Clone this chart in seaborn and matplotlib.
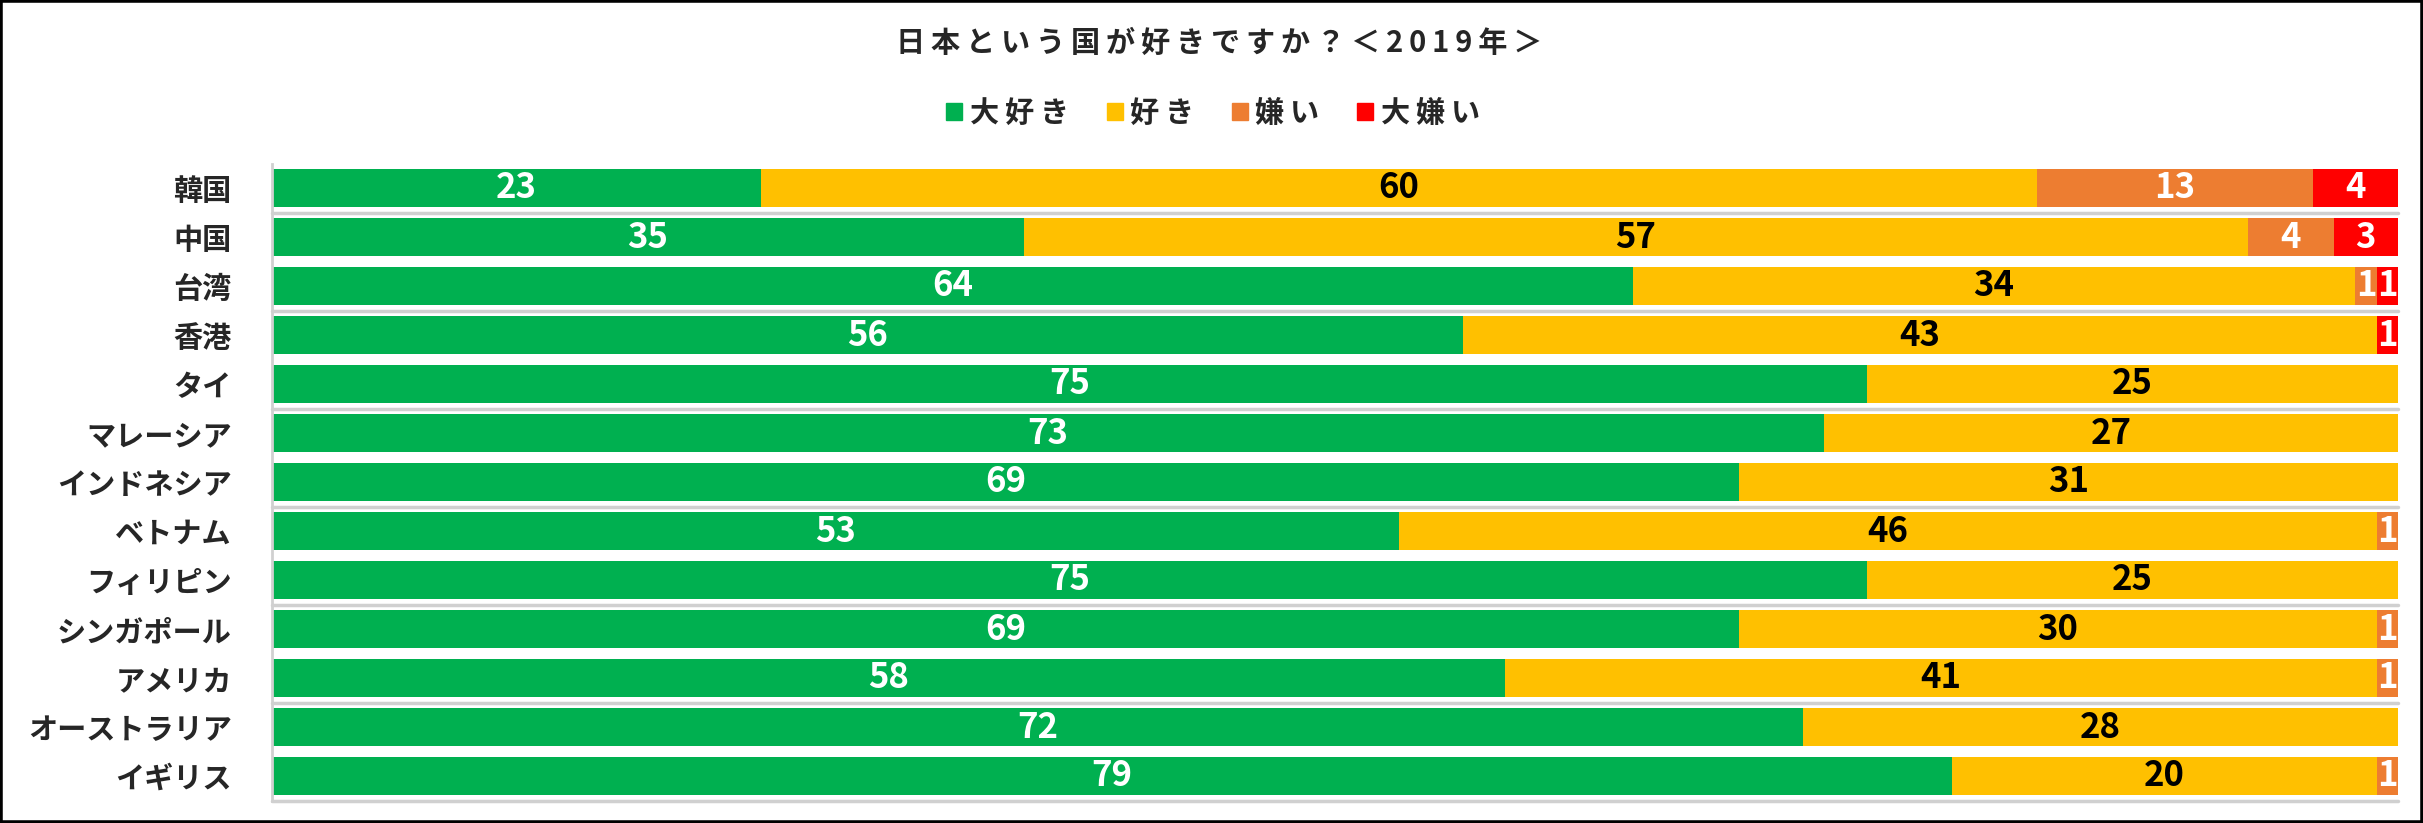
import matplotlib
matplotlib.use("Agg")
import matplotlib.pyplot as plt
import seaborn as sns
import pandas as pd
import numpy as np
from matplotlib.patches import Rectangle

countries = ["韓国", "中国", "台湾", "香港", "タイ", "マレーシア", "インドネシア", "ベトナム",
             "フィリピン", "シンガポール", "アメリカ", "オーストラリア", "イギリス"]
daisuki = [23, 35, 64, 56, 75, 73, 69, 53, 75, 69, 58, 72, 79]
suki = [60, 57, 34, 43, 25, 27, 31, 46, 25, 30, 41, 28, 20]
kirai = [13, 4, 1, 0, 0, 0, 0, 1, 0, 1, 1, 0, 1]
daikirai = [4, 3, 1, 1, 0, 0, 0, 0, 0, 0, 0, 0, 0]
series_names = ["大好き", "好き", "嫌い", "大嫌い"]
colors = ["#00B050", "#FFC000", "#ED7D31", "#FF0000"]
label_colors = ["white", "black", "white", "white"]
title = "日本という国が好きですか？＜2019年＞"

sns.set_theme(style="white")
FAM = ["Noto Sans CJK JP", "DejaVu Sans"]
plt.rcParams["font.family"] = FAM
plt.rcParams["font.weight"] = "bold"


def spaced(s):
    return "\u2009".join(list(s))


vals = np.array([daisuki, suki, kirai, daikirai], dtype=float)
totals = vals.sum(axis=0)
pct = vals / totals * 100.0
cum = np.cumsum(pct, axis=0)

fig = plt.figure(figsize=(24.23, 8.23), dpi=100)
ax = fig.add_axes([272 / 2423, 1 - 800.5 / 823, (2398 - 272) / 2423, (800.5 - 163.5) / 823])

for i in range(3, -1, -1):
    df = pd.DataFrame({"country": countries, "value": cum[i]})
    sns.barplot(data=df, x="value", y="country", orient="h", color=colors[i],
                saturation=1, width=0.77, ax=ax, order=countries, linewidth=0)

num_font = ["Liberation Sans Narrow", "Noto Sans CJK JP"]
for i in range(4):
    for j, c in enumerate(countries):
        v = vals[i, j]
        if v <= 0:
            continue
        start = cum[i, j] - pct[i, j]
        mid = start + pct[i, j] / 2
        ax.text(mid, j, f"{int(v)}", ha="center", va="center", color=label_colors[i],
                fontsize=25, fontweight="bold", family=num_font)

ax.set_xlim(0, 100)
ax.set_ylim(12.5, -0.5)
ax.set_xlabel("")
ax.set_ylabel("")
ax.set_xticks([])
for yb in np.arange(0.5, 13, 2):
    ax.axhline(yb, color="#D0D0D0", lw=2.5, zorder=0.5, clip_on=False)
for s in ["top", "right", "bottom"]:
    ax.spines[s].set_visible(False)
ax.spines["left"].set_color("#D0D0D0")
ax.spines["left"].set_linewidth(2)
ax.tick_params(axis="y", length=0, pad=29, labelsize=21)
for t in ax.get_yticklabels():
    t.set_fontweight("bold")

handles = [Rectangle((0, 0), 1, 1, color=col) for col in colors]
fig.legend(handles, [spaced(s) for s in series_names], loc="center", ncol=4, frameon=False,
           bbox_to_anchor=(1213 / 2423, 1 - 113 / 823),
           prop={"family": FAM, "size": 21, "weight": "bold"},
           handlelength=0.55, handleheight=0.55, handletextpad=0.25, columnspacing=1.3)

fig.text(1219 / 2423, 1 - 43 / 823, spaced(title), ha="center", va="center", fontsize=21,
         fontweight="bold", family=FAM)

fig.add_artist(Rectangle((0, 0), 1, 1, transform=fig.transFigure, fill=False,
                         edgecolor="black", lw=4, zorder=10))

fig.savefig("out.png", dpi=100)
